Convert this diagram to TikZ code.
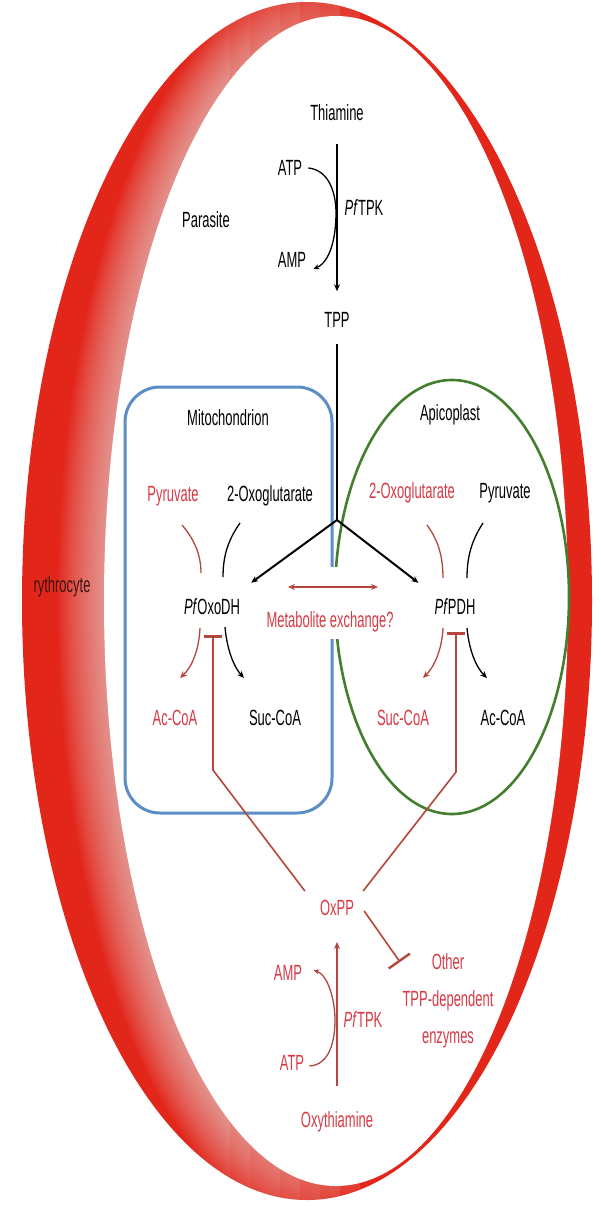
\documentclass[tikz,border=0pt]{standalone}
\usepackage{fontspec}
\setmainfont{Liberation Sans}[FakeStretch=0.59]
\usetikzlibrary{arrows.meta}
\definecolor{crescent}{HTML}{E3261A}
\definecolor{redtxt}{HTML}{D63A45}
\definecolor{redln}{HTML}{B4463E}
\definecolor{mitoblue}{HTML}{5B8DC6}
\definecolor{apigreen}{HTML}{437F2E}
\definecolor{erytxt}{HTML}{3A1512}
\begin{document}
\begin{tikzpicture}[x=1pt,y=-1pt,
  lbl/.style={font=\fontsize{22}{24}\selectfont, inner sep=1pt, text=black},
  rlbl/.style={lbl, text=redtxt},
  blk/.style={draw=black, line width=1.5pt},
  blkarr/.style={blk, -{Stealth[length=7pt,width=6pt]}},
  rarc/.style={draw=redln, line width=1.5pt},
  rarr/.style={rarc, -{Stealth[length=7pt,width=6pt]}},
  inhib/.style={draw=redln, line width=1.6pt, -{Bar[width=18pt,line width=2.6pt]}}
]
\useasboundingbox (0,0) rectangle (601,1206);
\fill[white] (0,0) rectangle (601,1206);

% erythrocyte crescent
\begin{scope}
  \clip (307,601) ellipse [x radius=285, y radius=599];
  \fill[crescent] (0,0) rectangle (601,1206);
  \foreach \xa in {0,230,240,...,390}{
    \pgfmathsetmacro{\xb}{\xa==0 ? 230 : \xa+10}
    \pgfmathsetmacro{\op}{\xa==0 ? 0.03 : 0.03*max(0,(395-\xa-5)/165)}
    \begin{scope}
      \clip (\xa,0) rectangle (\xb,1206);
      \foreach \w in {4,8,...,92}
        \draw[white, line width=\w pt, opacity=\op] (336,601) ellipse [x radius=232, y radius=585];
    \end{scope}
  }
\end{scope}
\fill[white] (336,601) ellipse [x radius=232, y radius=585];

% organelles
\draw[mitoblue, line width=3pt, rounded corners=35pt] (125,387) rectangle (332,813);
\draw[apigreen, line width=2.6pt] (452,597) ellipse [x radius=117, y radius=217];
\fill[white] (321,567) rectangle (350,639);

% labels
\node[lbl, text=erytxt] (ery) at (62,587) {rythrocyte};
\node[lbl] (parasite) at (206,220) {Parasite};
\node[lbl] (thiamine) at (337,113) {Thiamine};
\node[lbl] (atp) at (290,168) {ATP};
\node[lbl] (amp) at (292,260) {AMP};
\node[lbl] (tpk) at (364,208) {\textit{Pf}TPK};
\node[lbl] (tpp) at (337,320) {TPP};
\coordinate (j) at (337,520);

\node[lbl] (mito) at (228,418) {Mitochondrion};
\node[rlbl] (pyrm) at (173,496) {Pyruvate};
\node[lbl] (oxom) at (270,496) {2-Oxoglutarate};
\node[lbl] (oxodh) at (212,607) {\textit{Pf}OxoDH};
\node[rlbl] (accm) at (175,718) {Ac-CoA};
\node[lbl] (sucm) at (275,718) {Suc-CoA};

\node[lbl] (api) at (450,415) {Apicoplast};
\node[rlbl] (oxoa) at (412,493) {2-Oxoglutarate};
\node[lbl] (pyra) at (505,493) {Pyruvate};
\node[lbl] (pdh) at (455,607) {\textit{Pf}PDH};
\node[rlbl] (suca) at (403,718) {Suc-CoA};
\node[lbl] (acca) at (503,718) {Ac-CoA};

\node[rlbl] (metab) at (330,622) {Metabolite exchange?};
\coordinate (exl) at (288,587);
\coordinate (exr) at (378,587);

\node[rlbl] (oxpp) at (337,908) {OxPP};
\node[rlbl, align=center, font=\fontsize{22}{37}\selectfont] (other) at (448,1001) {Other\\TPP-dependent\\enzymes};
\node[rlbl] (amp2) at (288,973) {AMP};
\node[rlbl] (atp2) at (292,1063) {ATP};
\node[rlbl] (tpk2) at (363,1020) {\textit{Pf}TPK};
\node[rlbl] (oxythia) at (337,1122) {Oxythiamine};

% thiamine -> TPP
\draw[blkarr, line width=1.3pt, shorten <=22pt, shorten >=20pt] (thiamine.south) -- (tpp.north);
\draw[blk, line width=1.3pt, -{Stealth[length=6pt,width=5pt]}]
  ([xshift=5pt]atp.east) .. controls (329,170) and (336,193) .. (336,213)
  .. controls (336,238) and (330,262) .. ([shift={(6,9)}]amp.east);
\draw[blk, line width=1.3pt, shorten <=15pt] (tpp.south) -- (j);

% TPP to enzymes
\draw[blkarr, line width=2pt] (j) -- ([shift={(10,-15)}]oxodh.north east);
\draw[blkarr, line width=2pt] (j) -- ([shift={(-15,-15)}]pdh.north west);

% metabolite exchange
\draw[rarc, line width=2pt, {Stealth[length=7pt,width=6pt]}-{Stealth[length=7pt,width=6pt]}] (exl) -- (exr);

% mitochondrion reaction arcs
\draw[rarc, line width=1.3pt] (182,525) .. controls (195,540) and (201,556) .. (201,573);
\draw[rarr, line width=1.3pt] (200,628) .. controls (199,650) and (192,667) .. (180,678);
\draw[blk, line width=1.3pt] (240,523) .. controls (228,540) and (223,556) .. (223,577);
\draw[blkarr, line width=1.3pt] (225,627) .. controls (227,650) and (234,667) .. (244,678);

% apicoplast reaction arcs
\draw[rarc, line width=1.3pt] (427,525) .. controls (438,540) and (443,556) .. (443,578);
\draw[rarr, line width=1.3pt] (443,628) .. controls (442,650) and (434,667) .. (423,678);
\draw[blk, line width=1.3pt] (483,523) .. controls (472,540) and (467,556) .. (467,578);
\draw[blkarr, line width=1.3pt] (467,628) .. controls (469,650) and (476,667) .. (487,678);

% inhibition by OxPP
\draw[inhib] ([shift={(-14,-8)}]oxpp.north west) -- (213,770) -- (213,635);
\draw[inhib] ([shift={(8,-8)}]oxpp.north east) -- (456,772) -- (456,632);
\draw[inhib, -{Bar[width=26pt,line width=2.4pt]}] ([shift={(9,3)}]oxpp.east) -- (400,962);

% oxythiamine -> OxPP
\draw[rarr, line width=1.4pt, shorten <=25pt, shorten >=25pt] (oxythia.north) -- (oxpp.south);
\draw[rarr, line width=1.3pt, -{Stealth[length=6pt,width=5pt]}]
  ([shift={(4,3)}]atp2.east) .. controls (330,1065) and (335,1040) .. (335,1020)
  .. controls (335,1000) and (328,975) .. ([shift={(10,-3)}]amp2.east);
\end{tikzpicture}
\end{document}
